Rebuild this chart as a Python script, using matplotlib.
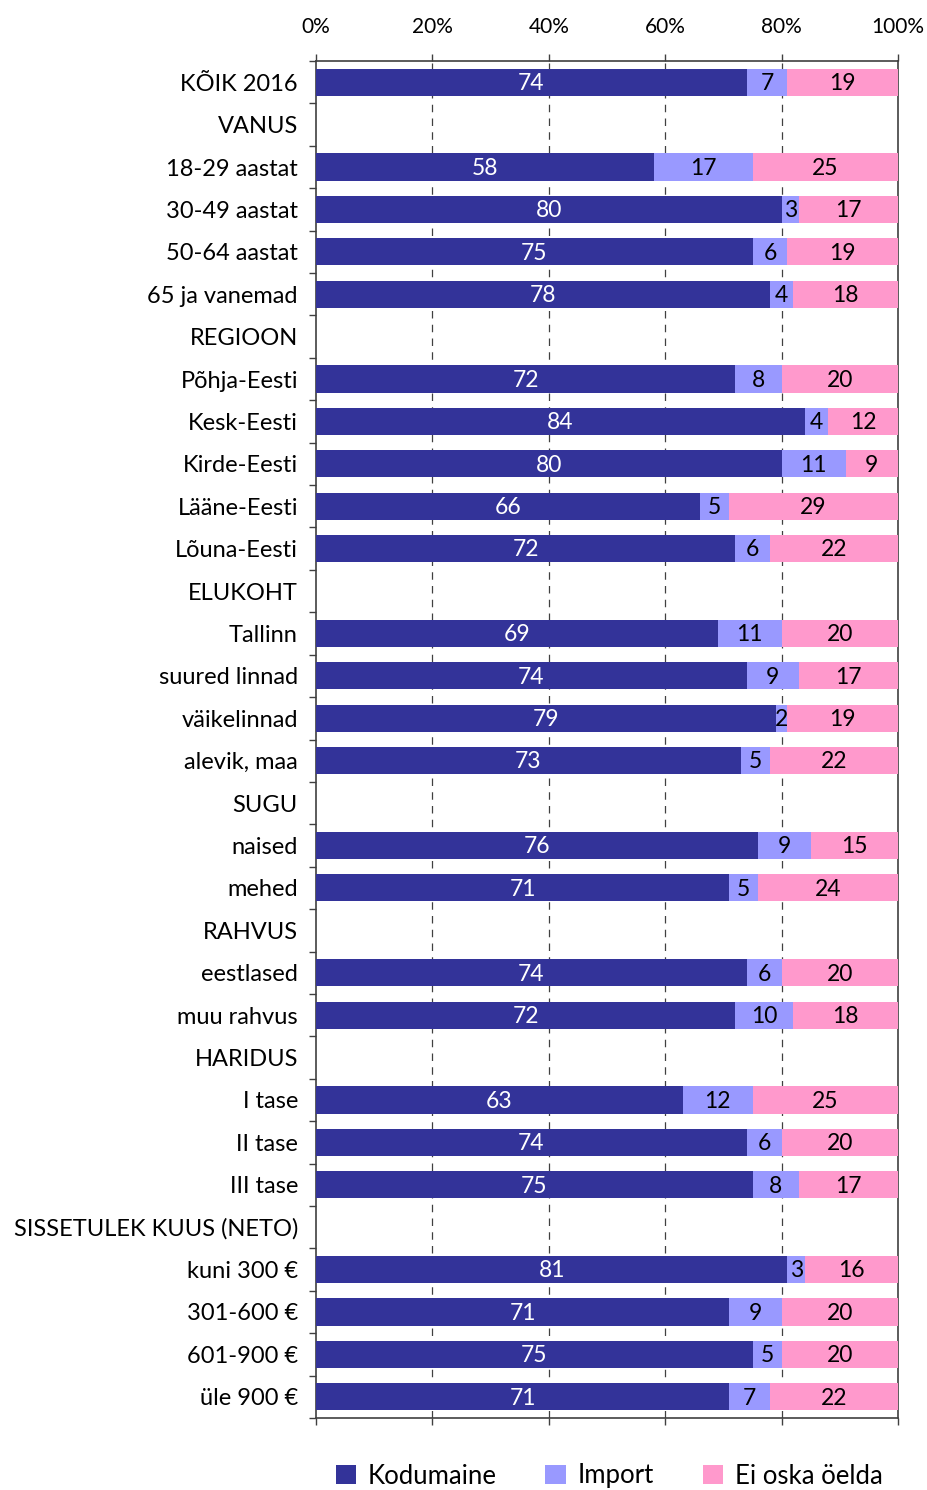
import matplotlib
matplotlib.use("Agg")
import matplotlib.pyplot as plt
from matplotlib.ticker import FixedLocator, PercentFormatter
from matplotlib.patches import Patch
import numpy as np

plt.rcParams['font.family'] = ['Lato', 'DejaVu Sans']

categories = ["KÕIK 2016", "VANUS", "18-29 aastat", "30-49 aastat", "50-64 aastat",
              "65 ja vanemad", "REGIOON", "Põhja-Eesti", "Kesk-Eesti", "Kirde-Eesti",
              "Lääne-Eesti", "Lõuna-Eesti", "ELUKOHT", "Tallinn", "suured linnad",
              "väikelinnad", "alevik, maa", "SUGU", "naised", "mehed", "RAHVUS",
              "eestlased", "muu rahvus", "HARIDUS", "I tase", "II tase", "III tase",
              "SISSETULEK KUUS (NETO)", "kuni 300 €", "301-600 €", "601-900 €", "üle 900 €"]

kodumaine = [74, None, 58, 80, 75, 78, None, 72, 84, 80, 66, 72, None, 69, 74, 79, 73,
             None, 76, 71, None, 74, 72, None, 63, 74, 75, None, 81, 71, 75, 71]
import_ = [7, None, 17, 3, 6, 4, None, 8, 4, 11, 5, 6, None, 11, 9, 2, 5,
           None, 9, 5, None, 6, 10, None, 12, 6, 8, None, 3, 9, 5, 7]
ei_oska = [19, None, 25, 17, 19, 18, None, 20, 12, 9, 29, 22, None, 20, 17, 19, 22,
           None, 15, 24, None, 20, 18, None, 25, 20, 17, None, 16, 20, 20, 22]

series_names = ["Kodumaine", "Import", "Ei oska öelda"]
colors = ["#333399", "#9999FF", "#FF99CC"]
text_colors = ["white", "black", "black"]

fig = plt.figure(figsize=(9.28, 14.90), dpi=100)
ax = fig.add_axes([316/928, 1 - 1418/1490, (898-316)/928, (1418-61)/1490])

n = len(categories)
y = np.arange(n)
fs = 17

left = np.zeros(n)
for vals, col, tc in zip([kodumaine, import_, ei_oska], colors, text_colors):
    v = np.array([0 if x is None else x for x in vals], dtype=float)
    ax.barh(y, v, left=left, height=0.64, color=col, zorder=3)
    for i in range(n):
        if vals[i] is not None:
            ax.text(left[i] + v[i] / 2, y[i] + 0.03, str(vals[i]), ha='center', va='center',
                    color=tc, fontsize=16.5, zorder=4)
    left += v

ax.set_xlim(0, 100)
ax.set_ylim(n - 0.5, -0.5)
ax.set_yticks(y)
ax.set_yticklabels(categories, fontsize=fs)
ax.tick_params(axis='y', which='major', length=0, pad=13)
ax.yaxis.set_minor_locator(FixedLocator(np.arange(-0.5, n, 1.0)))
ax.tick_params(axis='y', which='minor', length=5, width=1, color='#404040', left=True)

ax.set_xticks(np.arange(0, 101, 20))
ax.xaxis.set_major_formatter(PercentFormatter(decimals=0))
ax.xaxis.tick_top()
ax.tick_params(axis='x', which='major', top=True, bottom=True, length=5, width=1,
               color='#404040', labelsize=15, pad=12, direction='out')
ax.tick_params(axis='x', labelbottom=False)

for xv in [20, 40, 60, 80]:
    ax.axvline(xv, color='#404040', linestyle=(0, (6, 5)), linewidth=0.9, zorder=1)

for sp in ax.spines.values():
    sp.set_color('#404040')
    sp.set_linewidth(1.2)

handles = [Patch(facecolor=c, edgecolor='none') for c in colors]
fig.legend(handles, series_names, loc='center', bbox_to_anchor=(609/928, 1 - 1476/1490),
           ncol=3, frameon=False, fontsize=18.5, handlelength=0.8, handleheight=0.8,
           handletextpad=0.45, columnspacing=1.9)

fig.savefig("out.png", dpi=100)
